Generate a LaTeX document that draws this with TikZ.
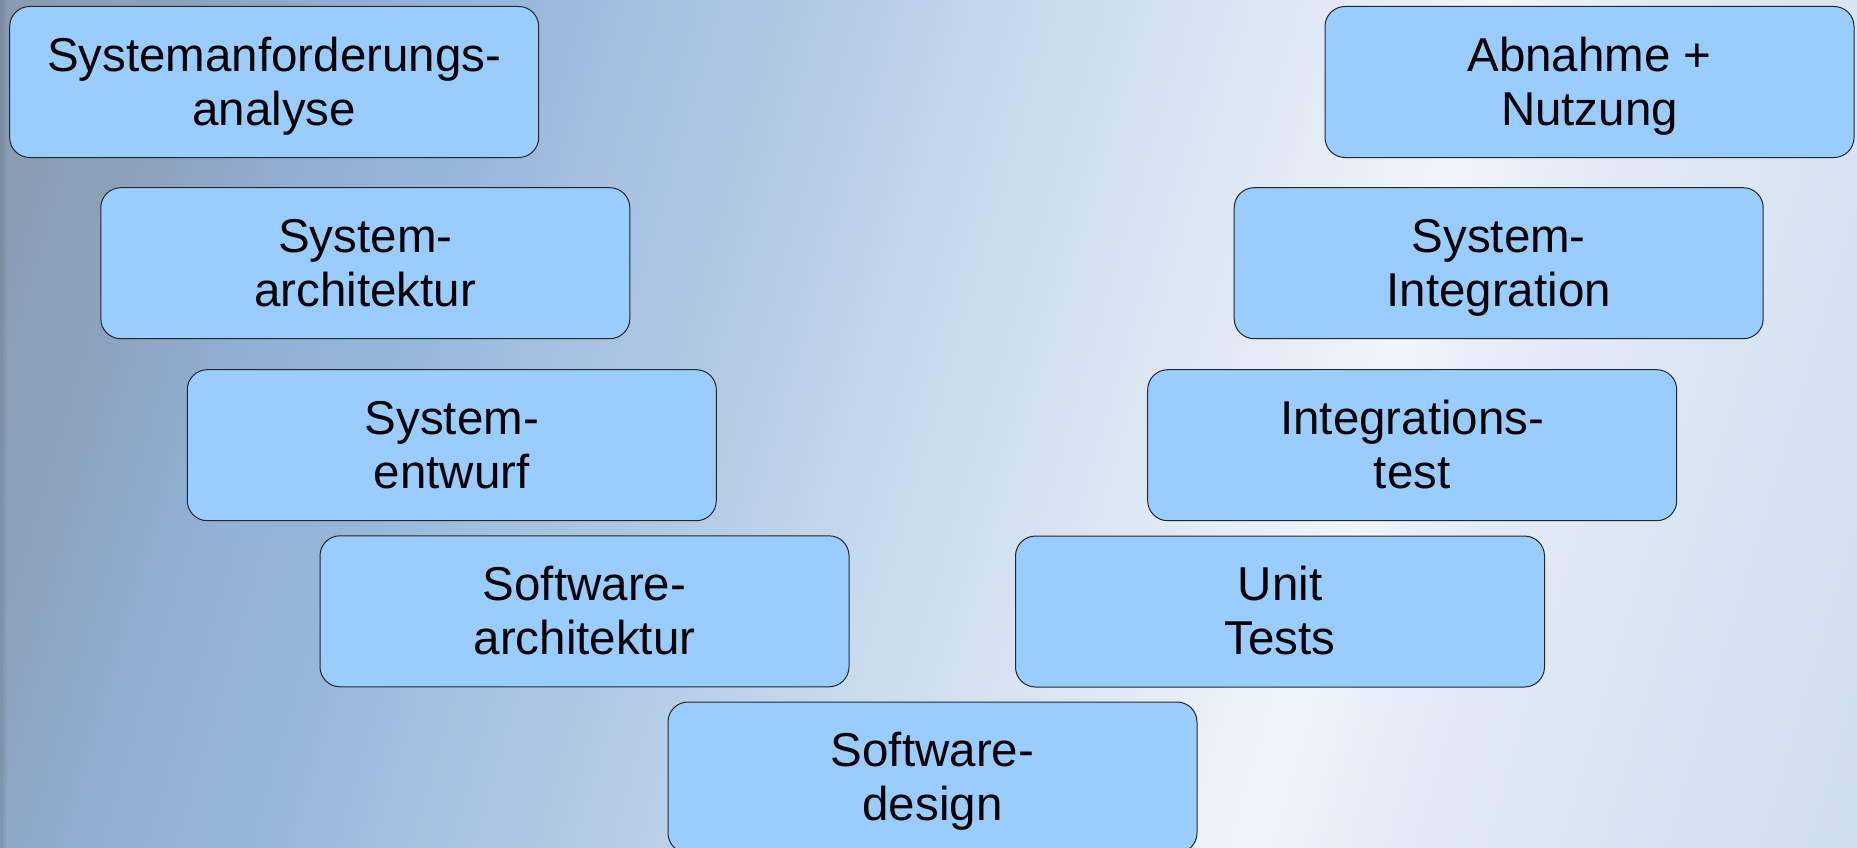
\documentclass[tikz,border=0pt]{standalone}
\usepackage{fontspec}
\newfontfamily\boxfont{Liberation Sans}
\definecolor{boxblue}{HTML}{99CCFF}
\definecolor{c0}{HTML}{8799AD}
\definecolor{c1}{HTML}{8CA4C0}
\definecolor{c2}{HTML}{91B0D4}
\definecolor{c3}{HTML}{96B6DA}
\definecolor{c4}{HTML}{A5C1E1}
\definecolor{c5}{HTML}{AFC8E4}
\definecolor{c6}{HTML}{C4D7EC}
\definecolor{c7}{HTML}{D6E3F1}
\definecolor{c8}{HTML}{E0E9F3}
\definecolor{c9}{HTML}{F1F5FB}
\definecolor{c10}{HTML}{E3EBF5}
\definecolor{c11}{HTML}{D4E1EF}
\definecolor{c12}{HTML}{CBDBEC}
\newcommand\twoline[2]{\smash{#1}\vphantom{A}\\\smash{#2}\vphantom{A}}
\begin{document}
\begin{tikzpicture}[x=1pt,y=-1pt,
  vbox/.style={draw=black!85, line width=1pt, fill=boxblue, rounded corners=20pt,
    minimum width=529pt, minimum height=151pt, inner sep=0pt, align=center,
    font=\boxfont\fontsize{47.5}{54}\selectfont}]
\useasboundingbox (0,0) rectangle (1857,848);
% background gradient
\begin{scope}
\clip (0,0) rectangle (1857,848);
\foreach \pa/\pb/\ca/\cb in {-20/210/c0/c1,210/340/c1/c2,340/490/c2/c3,490/625/c3/c4,625/770/c4/c5,770/960/c5/c6,960/1150/c6/c7,1150/1265/c7/c8,1265/1439/c8/c9,1439/1565/c9/c10,1565/1895/c10/c11,1895/2100/c11/c12}{
  \pgfmathtruncatemacro\nst{max(1,round((\pb-\pa)/6))}
  \pgfmathsetmacro\dq{(\pb-\pa)/\nst}
  \foreach \i in {1,...,\nst}{
    \pgfmathsetmacro\qa{\pa+(\i-1)*\dq}
    \pgfmathsetmacro\qb{\pa+\i*\dq+1.5}
    \pgfmathtruncatemacro\mix{round((\i-0.5)/\nst*100)}
    \fill[\cb!\mix!\ca] ({(\qa+5.66)/0.959},-20) -- ({(\qb+5.66)/0.959},-20)
      -- ({(\qb-246.2)/0.959},870) -- ({(\qa-246.2)/0.959},870) -- cycle;
  }
}
\fill[black, opacity=0.10] (0,0) rectangle (3,848);
\fill[black, opacity=0.05] (3,0) rectangle (6,848);
\end{scope}
% boxes
\node[vbox] (san) at (274.2,82) {\twoline{Systemanforderungs-}{analyse}};
\node[vbox] (sar) at (365.3,263.2) {\twoline{System-}{architektur}};
\node[vbox] (sen) at (451.8,445.2) {\twoline{System-}{entwurf}};
\node[vbox] (swa) at (584.5,611.3) {\twoline{Software-}{architektur}};
\node[vbox] (swd) at (932.5,777.5) {\twoline{Software-}{design}};
\node[vbox] (abn) at (1589.5,82) {\twoline{Abnahme +}{Nutzung}};
\node[vbox] (sint) at (1498.7,263.2) {\twoline{System-}{Integration}};
\node[vbox] (itest) at (1412.2,445.2) {\twoline{Integrations-}{test}};
\node[vbox] (utest) at (1280,611.5) {\twoline{Unit}{Tests}};
\end{tikzpicture}
\end{document}
